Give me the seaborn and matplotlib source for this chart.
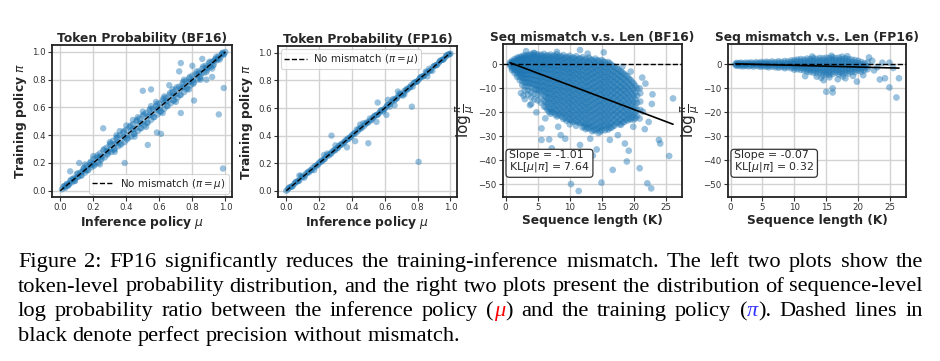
import matplotlib
matplotlib.use("Agg")
import matplotlib.pyplot as plt
import numpy as np
import pandas as pd
import seaborn as sns

# ---------------- data ----------------
# Panel 1: token probability, BF16 (inference mu, training pi)
tok_bf16_mu = [0.01,0.02,0.03,0.04,0.05,0.06,0.07,0.08,0.09,0.10,0.11,0.12,0.13,0.14,0.15,0.16,0.17,0.18,0.19,0.20,
               0.21,0.22,0.23,0.24,0.25,0.26,0.27,0.28,0.29,0.30,0.31,0.32,0.33,0.34,0.35,0.36,0.37,0.38,0.39,0.40,
               0.41,0.42,0.43,0.44,0.45,0.46,0.47,0.48,0.49,0.50,0.51,0.52,0.53,0.54,0.55,0.56,0.57,0.58,0.59,0.60,
               0.61,0.62,0.63,0.64,0.65,0.66,0.67,0.68,0.69,0.70,0.71,0.72,0.73,0.74,0.75,0.76,0.77,0.78,0.79,0.80,
               0.81,0.82,0.83,0.84,0.85,0.86,0.87,0.88,0.89,0.90,0.91,0.92,0.93,0.94,0.95,0.96,0.97,0.98,0.99,1.00,
               0.03,0.055,0.08,0.105,0.13,0.155,0.18,0.205,0.23,0.255,0.28,0.305,0.33,0.355,0.38,0.405,0.43,0.455,0.48,0.505,
               0.53,0.555,0.58,0.605,0.63,0.655,0.68,0.705,0.73,0.755,0.78,0.805,0.83,0.855,0.88,0.905,0.93,0.955,0.98,
               0.025,0.045,0.065,0.085,0.105,0.125,0.145,0.165,0.185,0.205,0.225,0.245,0.265,0.285,0.305,0.325,0.345,0.365,
               0.385,0.405,0.425,0.445,0.465,0.485,0.505,0.525,0.545,0.565,0.585,0.605,0.625,0.645,0.665,0.685,0.705,0.725,
               0.745,0.765,0.785,0.805,0.825,0.845,0.865,0.885,0.905,0.925,0.945,0.965,0.985,
               0.04,0.09,0.14,0.19,0.24,0.29,0.34,0.39,0.44,0.49,0.54,0.59,0.64,0.69,0.74,0.79,0.84,0.89,0.94,0.99,
               0.30,0.34,0.36,0.40,0.44,0.47,0.50,0.55,0.58,0.63,0.68,0.75,0.33,0.45,0.52,0.62,0.70,0.78,0.85,0.24,0.20,0.15,0.92,
               0.73,0.86,0.885,0.99,0.96,0.985,0.81,0.73,0.50,0.55,0.26,0.585,0.61,0.53,0.39,0.115,0.06,0.72,0.80,0.66,0.92]
tok_bf16_pi = [0.01,0.03,0.02,0.05,0.04,0.07,0.06,0.09,0.07,0.12,0.10,0.13,0.11,0.16,0.13,0.18,0.15,0.20,0.17,0.23,
               0.19,0.24,0.20,0.27,0.23,0.29,0.24,0.31,0.27,0.33,0.28,0.36,0.30,0.38,0.32,0.40,0.34,0.42,0.35,0.44,
               0.38,0.46,0.39,0.48,0.41,0.50,0.43,0.52,0.45,0.54,0.47,0.56,0.49,0.58,0.51,0.59,0.53,0.61,0.55,0.63,
               0.57,0.65,0.59,0.67,0.61,0.69,0.63,0.71,0.65,0.73,0.67,0.75,0.69,0.77,0.71,0.79,0.74,0.81,0.76,0.83,
               0.78,0.84,0.80,0.86,0.82,0.88,0.85,0.90,0.87,0.92,0.89,0.93,0.91,0.95,0.94,0.97,0.96,0.99,0.98,1.00,
               0.03,0.05,0.085,0.10,0.135,0.15,0.185,0.20,0.235,0.25,0.285,0.30,0.335,0.35,0.385,0.40,0.435,0.45,0.485,0.50,
               0.535,0.55,0.585,0.60,0.635,0.65,0.685,0.70,0.735,0.75,0.785,0.80,0.835,0.85,0.885,0.90,0.935,0.95,0.985,
               0.035,0.035,0.08,0.07,0.125,0.11,0.165,0.145,0.21,0.18,0.255,0.22,0.30,0.26,0.34,0.295,0.385,0.33,
               0.43,0.37,0.47,0.41,0.51,0.45,0.55,0.49,0.59,0.53,0.625,0.57,0.665,0.61,0.705,0.65,0.745,0.69,
               0.785,0.73,0.82,0.77,0.86,0.81,0.895,0.855,0.93,0.90,0.965,0.945,0.995,
               0.045,0.085,0.145,0.185,0.245,0.285,0.345,0.385,0.445,0.485,0.545,0.585,0.645,0.685,0.745,0.785,0.845,0.885,0.945,0.985,
               0.35,0.40,0.43,0.47,0.51,0.53,0.57,0.61,0.64,0.68,0.73,0.80,0.28,0.39,0.46,0.56,0.64,0.73,0.80,0.19,0.25,0.19,0.88,
               0.92,0.95,0.80,0.74,0.55,0.16,0.65,0.56,0.72,0.73,0.45,0.42,0.41,0.33,0.20,0.20,0.14,0.86,0.90,0.76,0.82]

# Panel 2: token probability, FP16
tok_fp16_mu = [0.00,0.02,0.04,0.06,0.08,0.09,0.10,0.11,0.12,0.14,0.16,0.17,0.18,0.20,0.22,0.24,0.25,0.26,0.28,0.30,
               0.32,0.34,0.36,0.38,0.40,0.42,0.43,0.44,0.46,0.47,0.48,0.50,0.51,0.52,0.54,0.56,0.58,0.59,0.60,0.62,
               0.63,0.64,0.65,0.66,0.68,0.69,0.70,0.71,0.72,0.74,0.76,0.77,0.78,0.80,0.82,0.84,0.85,0.86,0.87,0.88,
               0.89,0.90,0.92,0.94,0.96,0.98,1.00,
               0.01,0.03,0.05,0.07,0.13,0.15,0.19,0.21,0.23,0.27,0.29,0.31,0.33,0.35,0.37,0.39,0.41,0.45,0.49,0.53,
               0.55,0.57,0.61,0.67,0.73,0.75,0.79,0.81,0.83,0.91,0.93,0.95,0.97,0.99,
               0.015,0.035,0.055,0.075,0.095,0.115,0.135,0.155,0.175,0.195,0.215,0.235,0.255,0.275,0.295,0.315,0.335,
               0.355,0.375,0.395,0.415,0.435,0.455,0.475,0.495,0.515,0.535,0.555,0.575,0.595,0.615,0.635,0.655,0.675,
               0.695,0.715,0.735,0.755,0.775,0.795,0.815,0.835,0.855,0.875,0.895,0.915,0.935,0.955,0.975,0.995,
               0.276,0.37,0.42,0.50,0.55,0.557,0.61,0.765,0.806,0.30,0.23,0.08,0.62,0.66,0.68,0.86,0.72,0.45]
tok_fp16_pi = [0.00,0.025,0.035,0.065,0.075,0.11,0.10,0.095,0.125,0.135,0.165,0.15,0.175,0.205,0.215,0.245,0.27,0.255,0.285,0.295,
               0.325,0.335,0.365,0.375,0.405,0.415,0.445,0.445,0.455,0.49,0.485,0.495,0.525,0.515,0.545,0.555,0.585,0.575,0.595,0.625,
               0.61,0.645,0.665,0.655,0.685,0.705,0.695,0.69,0.725,0.735,0.765,0.755,0.785,0.795,0.825,0.835,0.865,0.855,0.885,0.875,
               0.87,0.905,0.915,0.945,0.955,0.985,0.995,
               0.01,0.03,0.05,0.07,0.13,0.15,0.19,0.21,0.23,0.27,0.29,0.31,0.33,0.35,0.37,0.39,0.41,0.45,0.49,0.53,
               0.55,0.57,0.61,0.67,0.73,0.75,0.79,0.81,0.83,0.91,0.93,0.95,0.97,0.99,
               0.02,0.03,0.06,0.07,0.10,0.11,0.14,0.15,0.18,0.19,0.22,0.23,0.26,0.27,0.30,0.31,0.34,
               0.35,0.38,0.39,0.42,0.43,0.46,0.47,0.50,0.51,0.54,0.55,0.58,0.59,0.62,0.63,0.66,0.67,
               0.70,0.71,0.74,0.75,0.78,0.79,0.82,0.83,0.86,0.87,0.90,0.91,0.94,0.95,0.98,0.99,
               0.40,0.315,0.36,0.345,0.50,0.64,0.55,0.61,0.21,0.33,0.26,0.11,0.66,0.62,0.72,0.83,0.70,0.48]

perfect_line = [0.0, 1.0]

# Panel 3: sequence log-ratio vs length (K), BF16 -- dense cloud, one y-list per length column
bf16_len_cols = [0.7, 1.0, 1.4, 1.8, 2.2, 2.6, 3.0, 3.5, 4.0, 4.5, 5.0, 5.5, 6.0, 6.5, 7.0, 7.5, 8.0, 8.5, 9.0, 9.5,
                 10.0, 10.5, 11.0, 11.5, 12.0, 12.5, 13.0, 13.5, 14.0, 14.5, 15.0, 15.5, 16.0, 16.5, 17.0, 17.5,
                 18.0, 18.5, 19.0, 19.5, 20.0, 20.5, 21.0,
                 1.2, 1.6, 2.0, 2.4, 2.8, 3.25, 3.75, 4.25, 4.75, 5.25, 5.75, 6.25, 6.75, 7.25, 7.75, 8.25,
                 8.75, 9.25, 9.75, 10.25, 10.75, 11.25, 11.75, 12.25,
                 12.75, 13.25, 13.75, 14.25, 14.75, 15.25, 15.75, 16.25, 16.75, 17.25, 17.75, 18.25, 18.75,
                 19.25, 19.75, 20.25,
                 6.25, 6.75, 7.25, 7.75, 8.25, 8.75, 9.25, 9.75, 10.25, 10.75, 11.25, 11.75, 12.25]
bf16_ratio_cols = [
    [0.8, 0.2, -0.5],
    [1.5, 0.8, 0.0, -0.8, -1.6, -2.4],
    [2.2, 1.2, 0.3, -0.6, -1.5, -2.5, -3.6],
    [2.8, 1.7, 0.6, -0.5, -1.6, -2.8, -4.0, -5.2],
    [3.1, 2.0, 0.9, -0.2, -1.3, -2.5, -3.8, -5.2, -6.6],
    [3.5, 2.3, 1.1, -0.1, -1.3, -2.6, -4.0, -5.5, -7.0, -8.6],
    [3.8, 2.5, 1.2, -0.1, -1.4, -2.8, -4.3, -5.9, -7.5, -9.2, -10.8],
    [4.0, 2.7, 1.4, 0.1, -1.2, -2.6, -4.1, -5.7, -7.4, -9.1, -10.9, -12.6],
    [4.3, 2.9, 1.5, 0.1, -1.3, -2.8, -4.4, -6.1, -7.9, -9.7, -11.6, -13.8],
    [4.6, 3.1, 1.6, 0.1, -1.4, -3.0, -4.7, -6.5, -8.4, -10.3, -12.3, -14.6],
    [4.2, 2.8, 1.3, -0.2, -1.7, -3.3, -5.0, -6.8, -8.7, -10.6, -12.6, -15.0],
    [4.0, 2.5, 1.0, -0.5, -2.1, -3.8, -5.6, -7.5, -9.4, -11.4, -13.5, -16.0],
    [4.4, 2.9, 1.4, -0.1, -1.7, -3.4, -5.2, -7.1, -9.0, -11.0, -13.1, -15.3, -17.6],
    [3.8, 2.3, 0.8, -0.8, -2.5, -4.3, -6.2, -8.1, -10.1, -12.1, -14.2, -16.4, -18.8],
    [4.1, 2.6, 1.0, -0.6, -2.3, -4.1, -6.0, -8.0, -10.0, -12.1, -14.2, -16.4, -18.7, -20.6],
    [3.7, 2.1, 0.5, -1.2, -3.0, -4.9, -6.9, -8.9, -11.0, -13.1, -15.3, -17.5, -19.8],
    [4.2, 2.6, 0.9, -0.8, -2.6, -4.5, -6.5, -8.5, -10.6, -12.7, -14.9, -17.1, -19.4, -21.7],
    [3.5, 1.9, 0.2, -1.6, -3.5, -5.5, -7.5, -9.6, -11.7, -13.9, -16.1, -18.4, -20.7],
    [3.9, 2.2, 0.5, -1.3, -3.2, -5.2, -7.2, -9.3, -11.4, -13.6, -15.8, -18.1, -20.4, -22.7],
    [3.2, 1.5, -0.2, -2.0, -3.9, -5.9, -7.9, -10.0, -12.1, -14.3, -16.5, -18.8, -21.1, -23.5],
    [3.6, 1.9, 0.1, -1.7, -3.6, -5.6, -7.6, -9.7, -11.8, -14.0, -16.2, -18.5, -20.8, -23.1, -25.0],
    [2.9, 1.1, -0.7, -2.6, -4.5, -6.5, -8.6, -10.7, -12.8, -15.0, -17.2, -19.4, -21.7, -24.0],
    [3.4, 1.6, -0.2, -2.1, -4.0, -6.0, -8.1, -10.2, -12.3, -14.5, -16.7, -18.9, -21.2, -23.5, -25.6],
    [2.6, 0.8, -1.0, -2.9, -4.9, -6.9, -9.0, -11.1, -13.3, -15.5, -17.7, -19.9, -22.2, -24.5],
    [3.0, 1.2, -0.6, -2.5, -4.5, -6.5, -8.6, -10.7, -12.9, -15.1, -17.3, -19.5, -21.8, -24.1, -26.3],
    [2.3, 0.5, -1.4, -3.3, -5.3, -7.3, -9.4, -11.5, -13.7, -15.9, -18.1, -20.3, -22.6, -24.9, -27.0],
    [2.8, 0.9, -1.0, -3.0, -5.0, -7.1, -9.2, -11.4, -13.6, -15.8, -18.0, -20.3, -22.6, -24.9, -26.8],
    [1.9, 0.0, -1.9, -3.9, -5.9, -8.0, -10.1, -12.3, -14.5, -16.7, -18.9, -21.2, -23.5, -25.8, -27.9],
    [2.4, 0.5, -1.5, -3.5, -5.5, -7.6, -9.7, -11.9, -14.1, -16.3, -18.5, -20.8, -23.1, -25.4, -27.5],
    [1.6, -0.4, -2.4, -4.4, -6.5, -8.6, -10.8, -13.0, -15.2, -17.4, -19.7, -22.0, -24.3, -26.6, -28.6],
    [1.8, -0.2, -2.2, -4.3, -6.4, -8.5, -10.7, -12.9, -15.1, -17.3, -19.6, -21.9, -24.2, -26.3],
    [0.9, -1.1, -3.2, -5.3, -7.4, -9.6, -11.8, -14.0, -16.2, -18.5, -20.8, -23.1, -25.4, -27.5],
    [1.0, -1.0, -3.1, -5.2, -7.3, -9.5, -11.7, -13.9, -16.1, -18.4, -20.7, -23.0, -25.3, -27.2],
    [-0.2, -2.3, -4.4, -6.5, -8.7, -10.9, -13.1, -15.3, -17.6, -19.9, -22.2, -24.5, -26.4],
    [-1.0, -3.1, -5.2, -7.4, -9.6, -11.8, -14.0, -16.3, -18.6, -20.9, -23.2, -25.5],
    [-2.0, -4.1, -6.2, -8.4, -10.6, -12.8, -15.0, -17.3, -19.6, -21.9, -24.2],
    [-3.0, -5.1, -7.3, -9.5, -11.7, -13.9, -16.2, -18.5, -20.8, -23.1, -25.2],
    [-4.0, -6.2, -8.4, -10.6, -12.8, -15.1, -17.4, -19.7, -22.0, -24.0],
    [-5.0, -7.3, -9.6, -11.9, -14.2, -16.5, -18.8, -21.1, -23.4],
    [-6.5, -8.9, -11.3, -13.7, -16.1, -18.5, -20.9, -23.0],
    [-8.0, -10.6, -13.2, -15.8, -18.4, -21.0, -23.0],
    [-10.0, -13.0, -16.0, -19.0, -21.5],
    [-12.0, -15.5, -19.0],
    [1.0, -0.2, -1.4],
    [1.6, 0.2, -1.0, -2.2],
    [2.4, 1.0, -0.4, -1.8, -3.2],
    [2.6, 1.3, 0.0, -1.5, -3.0, -4.6],
    [3.0, 1.6, 0.2, -1.2, -2.7, -4.2, -6.0],
    [3.4, 1.9, 0.4, -1.1, -2.6, -4.2, -6.0, -7.8],
    [3.6, 2.1, 0.6, -0.9, -2.5, -4.2, -6.0, -8.0],
    [3.9, 2.3, 0.7, -0.9, -2.6, -4.4, -6.3, -8.3],
    [3.7, 2.1, 0.5, -1.1, -2.8, -4.6, -6.5, -8.5, -10.5],
    [3.5, 1.9, 0.3, -1.4, -3.1, -4.9, -6.8, -8.8, -10.8],
    [3.6, 2.0, 0.3, -1.4, -3.2, -5.0, -6.9, -8.9, -11.0],
    [3.3, 1.6, -0.1, -1.9, -3.7, -5.6, -7.6, -9.6, -11.7],
    [3.4, 1.7, 0.0, -1.8, -3.7, -5.6, -7.6, -9.7, -11.8],
    [3.2, 1.5, -0.3, -2.1, -4.0, -6.0, -8.0, -10.1, -12.2],
    [3.3, 1.5, -0.3, -2.2, -4.1, -6.1, -8.2, -10.3, -12.4],
    [3.0, 1.2, -0.6, -2.5, -4.5, -6.5, -8.6, -10.7, -12.8],
    [3.1, 1.3, -0.6, -2.5, -4.5, -6.6, -8.7, -10.8, -13.0],
    [2.7, 0.9, -1.0, -3.0, -5.0, -7.1, -9.2, -11.4],
    [2.8, 0.9, -1.0, -3.0, -5.1, -7.2, -9.4, -11.6],
    [2.4, 0.5, -1.5, -3.5, -5.6, -7.7, -9.9, -12.1],
    [2.5, 0.5, -1.5, -3.6, -5.7, -7.9, -10.1, -12.3],
    [2.1, 0.1, -2.0, -4.1, -6.2, -8.4, -10.6],
    [2.2, 0.1, -2.0, -4.1, -6.3, -8.5, -10.7],
    [1.8, -0.3, -2.4, -4.6, -6.8, -9.0, -11.2],
    [1.4, -0.6, -2.6, -4.7, -6.8, -9.0, -11.2, -13.4, -15.6, -17.9, -20.2, -22.5, -24.8, -26.5],
    [2.0, 0.0, -2.1, -4.2, -6.3, -8.5, -10.7, -12.9, -15.1, -17.4, -19.7, -22.0, -24.3, -26.2],
    [1.2, -0.9, -3.0, -5.1, -7.3, -9.5, -11.7, -13.9, -16.2, -18.5, -20.8, -23.1, -25.4, -27.4],
    [1.6, -0.5, -2.6, -4.7, -6.9, -9.1, -11.3, -13.5, -15.8, -18.1, -20.4, -22.7, -25.0, -27.0],
    [0.8, -1.3, -3.4, -5.6, -7.8, -10.0, -12.2, -14.5, -16.8, -19.1, -21.4, -23.7, -26.0, -28.0],
    [1.2, -0.9, -3.0, -5.2, -7.4, -9.6, -11.8, -14.1, -16.4, -18.7, -21.0, -23.3, -25.6],
    [0.2, -1.9, -4.1, -6.3, -8.5, -10.7, -13.0, -15.3, -17.6, -19.9, -22.2, -24.5, -26.6],
    [0.4, -1.8, -4.0, -6.2, -8.4, -10.7, -13.0, -15.3, -17.6, -19.9, -22.2, -24.5, -26.5],
    [-0.8, -3.0, -5.2, -7.4, -9.7, -12.0, -14.3, -16.6, -18.9, -21.2, -23.5, -25.7],
    [-1.6, -3.8, -6.0, -8.3, -10.6, -12.9, -15.2, -17.5, -19.8, -22.1, -24.4],
    [-2.6, -4.8, -7.0, -9.3, -11.6, -13.9, -16.2, -18.5, -20.8, -23.1, -25.0],
    [-3.6, -5.9, -8.2, -10.5, -12.8, -15.1, -17.4, -19.7, -22.0, -24.2],
    [-4.6, -6.9, -9.2, -11.5, -13.8, -16.1, -18.4, -20.7, -23.0],
    [-6.0, -8.4, -10.8, -13.2, -15.6, -18.0, -20.4, -22.6],
    [-7.4, -9.9, -12.4, -14.9, -17.4, -19.9, -22.2],
    [-9.0, -11.8, -14.6, -17.4, -20.2, -22.4],
    [-13.5, -15.6, -17.8],
    [-13.9, -16.0, -18.2, -19.8],
    [-14.3, -16.5, -18.7, -20.0],
    [-14.5, -16.7, -18.9, -20.9],
    [-14.9, -17.1, -19.3, -21.2],
    [-15.2, -17.4, -19.7, -21.8],
    [-13.6, -15.8, -18.0, -20.3, -22.4],
    [-13.8, -16.0, -18.3, -20.6, -22.8],
    [-14.3, -16.5, -18.8, -21.1, -23.3],
    [-14.5, -16.8, -19.1, -21.4, -23.6],
    [-12.8, -15.0, -17.2, -19.5, -21.8, -24.0],
    [-12.9, -15.1, -17.4, -19.7, -22.0, -24.3],
    [-13.4, -15.6, -17.8, -20.1, -22.4, -24.7, -26.0],
]
bf16_out_len = [26.1, 22.9, 22.8, 20.9, 21.4, 20.9, 23.9, 24.1, 25.5, 20.9, 22.1, 22.7, 10.2, 11.4, 14.95, 16.7,
                12.6, 13.6, 10.0, 11.6, 8.6, 5.6, 6.8, 15.0, 16.25, 18.6, 19.9, 5.6, 11.6, 15.3, 4.4, 7.2, 9.3,
                13.2, 17.5, 19.2, 14.2, 3.8, 4.8, 6.2, 2.8, 8.2, 21.7, 22.3, 18.9, 6.5, 8.0, 3.2, 12.8, 18.2,
                19.5, 21.3, 21.8, 2.4, 3.0, 4.0]
bf16_out_ratio = [-14.2, -12.5, -16.5, -10.0, -19.7, -22.6, -31.5, -33.0, -38.2, -43.3, -49.6, -51.7, -49.9, -52.8,
                  -49.3, -44.0, -38.5, -38.0, -42.7, -33.6, -29.5, -26.7, -31.3, -27.4, -31.5, -33.0, -26.0, -31.5,
                  6.0, 5.0, 4.8, -35.0, -31.0, -31.0, -29.5, -36.0, -35.5, -17.0, -20.0, -22.5, -13.0, -26.0,
                  -27.0, -24.0, -40.5, -42.0, 5.2, 5.5, 4.5, -1.0, -3.0, -5.5, -8.0, -12.0, -14.5, -16.5]
bf16_slope, bf16_intercept, bf16_kl = -1.01, 1.4, 7.64

# Panel 4: sequence log-ratio vs length (K), FP16
fp16_len_cols = [0.8, 1.0, 1.3, 1.6, 2.0, 2.4, 2.8, 3.2, 3.6, 4.0, 4.4, 4.8, 5.2, 5.6, 6.0, 6.5, 7.0, 7.5, 8.0, 8.5,
                 9.0, 9.5, 10.0, 10.5, 11.0, 11.5, 12.0, 12.5, 13.0, 13.5, 14.0, 14.5, 15.0, 15.5, 16.0, 16.5,
                 17.0, 17.5, 18.0, 18.5, 19.0, 19.5, 20.0, 20.5, 21.0, 21.5]
fp16_ratio_cols = [
    [0.3, -0.3], [0.6, 0.0, -0.6], [0.4, -0.4], [0.7, 0.0, -0.7], [0.5, -0.2, -0.8], [0.7, 0.0, -0.6],
    [0.6, -0.1, -0.8], [0.8, 0.1, -0.6], [0.5, -0.2, -0.9], [0.9, 0.2, -0.5], [0.6, -0.1, -0.8],
    [1.0, 0.3, -0.4, -1.0], [0.7, 0.0, -0.7], [1.1, 0.4, -0.3, -1.0], [0.8, 0.1, -0.6, -1.2],
    [1.2, 0.5, -0.2, -0.9], [0.9, 0.2, -0.5, -1.2], [1.3, 0.6, -0.1, -0.8, -1.4], [1.0, 0.3, -0.4, -1.1],
    [1.4, 0.6, -0.2, -1.0, -1.6], [1.2, 0.4, -0.4, -1.2], [1.6, 0.8, 0.0, -0.8, -1.6],
    [1.8, 1.0, 0.2, -0.6, -1.4, -2.2], [2.0, 1.2, 0.4, -0.4, -1.2, -2.0], [2.2, 1.3, 0.4, -0.5, -1.4, -2.3],
    [2.0, 1.1, 0.2, -0.7, -1.6, -2.5], [2.4, 1.5, 0.6, -0.3, -1.2, -2.1, -3.0],
    [2.2, 1.3, 0.4, -0.5, -1.4, -2.3, -3.2], [2.6, 1.6, 0.6, -0.4, -1.4, -2.4, -3.4],
    [2.3, 1.3, 0.3, -0.7, -1.7, -2.7, -3.7], [2.7, 1.7, 0.7, -0.3, -1.3, -2.3, -3.3],
    [2.5, 1.5, 0.5, -0.5, -1.5, -2.5, -3.5, -4.5], [2.8, 1.8, 0.8, -0.2, -1.2, -2.2, -3.2, -4.2],
    [2.6, 1.6, 0.6, -0.4, -1.4, -2.4, -3.4, -4.4], [3.0, 2.0, 1.0, 0.0, -1.0, -2.0, -3.0, -4.0],
    [2.6, 1.6, 0.6, -0.4, -1.4, -2.4, -3.4], [2.8, 1.8, 0.8, -0.2, -1.2, -2.2, -3.2, -4.2],
    [3.2, 2.2, 1.2, 0.2, -0.8, -1.8, -2.8, -3.8], [2.5, 1.5, 0.5, -0.5, -1.5, -2.5, -3.5],
    [2.2, 1.2, 0.2, -0.8, -1.8, -2.8, -3.8], [2.0, 1.0, 0.0, -1.0, -2.0, -3.0],
    [1.8, 0.8, -0.2, -1.2, -2.2, -3.2], [1.5, 0.5, -0.5, -1.5, -2.5], [1.0, 0.0, -1.0, -2.0, -3.0],
    [0.5, -0.5, -1.5, -2.5], [0.8, -0.8, -2.0],
]
fp16_out_len = [15.0, 16.0, 16.0, 26.0, 24.9, 26.4, 21.7, 11.7, 23.4, 24.2, 19.8, 18.0, 15.5, 14.2, 16.8, 13.5,
                23.8, 24.9, 22.5, 23.0, 25.5, 20.8, 19.2, 17.6, 12.8, 15.8, 18.3, 14.6, 22.2]
fp16_out_ratio = [-11.4, -10.0, -11.7, -13.8, -9.6, -5.8, 2.9, -4.9, -6.3, -5.8, -7.2, -5.8, -5.4, -5.6, -6.2, -5.1,
                  0.7, 0.7, -2.5, -1.2, -1.5, -4.5, -4.8, -5.0, 3.3, 3.6, 3.4, -6.6, 1.5]
fp16_slope, fp16_intercept, fp16_kl = -0.07, 0.3, 0.32

tok_ticks = [0.0, 0.2, 0.4, 0.6, 0.8, 1.0]
len_ticks = [0, 5, 10, 15, 20, 25]
ratio_ticks = [0, -10, -20, -30, -40, -50]

titles = ["Token Probability (BF16)", "Token Probability (FP16)",
          "Seq mismatch v.s. Len (BF16)", "Seq mismatch v.s. Len (FP16)"]

caption_lines = [
    "Figure 2: FP16 significantly reduces the training-inference mismatch. The left two plots show the",
    "token-level probability distribution, and the right two plots present the distribution of sequence-level",
    "log probability ratio between the inference policy (\u03bc) and the training policy (\u03c0). Dashed lines in",
    "black denote perfect precision without mismatch.",
]

# ---------------- style ----------------
sns.set_theme(style="ticks")
plt.rcParams["font.family"] = ["DejaVu Sans"]
plt.rcParams["mathtext.fontset"] = "dejavusans"
plt.rcParams["axes.unicode_minus"] = True

W, H = 940, 361
fig = plt.figure(figsize=(W / 100, H / 100), dpi=100)
fig.patch.set_facecolor("white")


def add_ax(l, t, r, b):
    return fig.add_axes([l / W, 1 - b / H, (r - l) / W, (b - t) / H])


BLUE = "#1f77b4"
GRID = "#d2d2d2"
TICKC = "#333333"


def style_ax(ax):
    ax.grid(True, color=GRID, lw=1.0)
    ax.set_axisbelow(True)
    for s in ax.spines.values():
        s.set_visible(True)
        s.set_color("#222222")
        s.set_linewidth(1.3)
    ax.tick_params(axis="both", labelsize=6.2, colors=TICKC, length=3, width=0.8, pad=1.5)


def expand(xs, cols):
    px, py = [], []
    for x, ys in zip(xs, cols):
        px += [x] * len(ys)
        py += ys
    return px, py


axes = [add_ax(52, 45, 232, 197), add_ax(278, 46, 457, 197),
        add_ax(503, 44, 682, 197), add_ax(728, 44, 906, 197)]

# --- token panels ---
tok_sets = [(tok_bf16_mu, tok_bf16_pi, "lower right"), (tok_fp16_mu, tok_fp16_pi, "upper left")]
for ax, (mu, pi, loc), title in zip(axes[:2], tok_sets, titles[:2]):
    df = pd.DataFrame({"mu": mu, "pi": pi})
    sns.scatterplot(data=df, x="mu", y="pi", ax=ax, s=21, alpha=0.45, color=BLUE,
                    edgecolor="none", linewidth=0, legend=False, zorder=2)
    ax.plot(perfect_line, perfect_line, color="black", ls="--", lw=1.0, zorder=3,
            label=r"No mismatch ($\pi=\mu$)")
    style_ax(ax)
    ax.set_xlim(-0.05, 1.04)
    ax.set_ylim(-0.045, 1.05)
    ax.set_xticks(tok_ticks)
    ax.set_yticks(tok_ticks)
    ax.set_xlabel(r"Inference policy $\mu$", fontsize=8.8, fontweight="bold", labelpad=1)
    ax.set_ylabel(r"Training policy $\pi$", fontsize=8.8, fontweight="bold", labelpad=2)
    ax.set_title(title, fontsize=8.8, fontweight="bold", pad=2)
    leg = ax.legend(loc=loc, fontsize=7.4, handlelength=2.2, frameon=True, fancybox=True,
                    borderpad=0.3, handletextpad=0.6, borderaxespad=0.3)
    leg.get_frame().set_edgecolor("#cccccc")
    leg.get_frame().set_linewidth(0.8)

# --- sequence panels ---
seq_sets = [(bf16_len_cols, bf16_ratio_cols, bf16_out_len, bf16_out_ratio, bf16_slope, bf16_intercept, bf16_kl),
            (fp16_len_cols, fp16_ratio_cols, fp16_out_len, fp16_out_ratio, fp16_slope, fp16_intercept, fp16_kl)]
for ax, (lc, rc, ol, orr, slope, icpt, kl), title in zip(axes[2:], seq_sets, titles[2:]):
    px, py = expand(lc, rc)
    df = pd.DataFrame({"len": px + ol, "ratio": py + orr})
    sns.scatterplot(data=df, x="len", y="ratio", ax=ax, s=23, alpha=0.45, color=BLUE,
                    edgecolor="none", linewidth=0, legend=False, zorder=2)
    ax.axhline(0, color="black", ls="--", lw=1.0, zorder=3)
    xs = np.array([df["len"].min(), df["len"].max()])
    ax.plot(xs, icpt + slope * xs, color="black", lw=1.2, zorder=4)
    style_ax(ax)
    ax.set_xlim(-0.4, 27.5)
    ax.set_ylim(-55.3, 8.5)
    ax.set_xticks(len_ticks)
    ax.set_yticks(ratio_ticks)
    ax.set_xlabel("Sequence length (K)", fontsize=8.8, fontweight="bold", labelpad=1)
    ax.set_ylabel(r"$\log\frac{\pi}{\mu}$", fontsize=11, labelpad=1)
    ax.set_title(title, fontsize=8.8, fontweight="bold", pad=2)
    ax.text(0.035, 0.15, f"Slope = {slope:.2f}\nKL[$\\mu|\\pi$] = {kl:.2f}", transform=ax.transAxes,
            fontsize=7.8, ha="left", va="bottom", linespacing=1.0, zorder=6,
            bbox=dict(boxstyle="round,pad=0.3", fc="white", ec="#333333", lw=0.9))

# ---------------- caption (justified) ----------------
CAP_FONT = "Liberation Serif"
GREEK = {"\u03bc": "#ff0000", "\u03c0": "#3333ff"}
renderer = fig.canvas.get_renderer()


def measure(s, size, italic=False):
    t = fig.text(0, 0, s, fontsize=size, family=CAP_FONT, style="italic" if italic else "normal")
    w = t.get_window_extent(renderer).width
    t.remove()
    return w


cap_left, cap_right = 18.0, 923.0
# largest size at which every justified line still fits with normal word gaps
size = min(10 * (cap_right - cap_left - 6) / measure(l, 10) for l in caption_lines[:3])
space_w = measure("a a", size) - measure("aa", size)


def segments(word):
    segs, cur = [], ""
    for ch in word:
        if ch in GREEK:
            if cur:
                segs.append((cur, "black", False))
                cur = ""
            segs.append((ch, GREEK[ch], True))
        else:
            cur += ch
    if cur:
        segs.append((cur, "black", False))
    return segs


baselines = [267, 291.5, 316, 341]
for i, (line, base) in enumerate(zip(caption_lines, baselines)):
    words = line.split(" ")
    wsegs = [segments(w) for w in words]
    widths = [[measure(s, size, it) for s, c, it in ws] for ws in wsegs]
    total = sum(sum(w) for w in widths)
    if i < len(caption_lines) - 1:
        gap = (cap_right - cap_left - total) / (len(words) - 1)
    else:
        gap = space_w
    x = cap_left
    for ws, wl in zip(wsegs, widths):
        for (s, c, it), w in zip(ws, wl):
            fig.text(x / W, 1 - base / H, s, fontsize=size, family=CAP_FONT, color=c,
                     style="italic" if it else "normal", ha="left", va="baseline")
            x += w
        x += gap

fig.savefig("out.png", dpi=100, facecolor="white")
